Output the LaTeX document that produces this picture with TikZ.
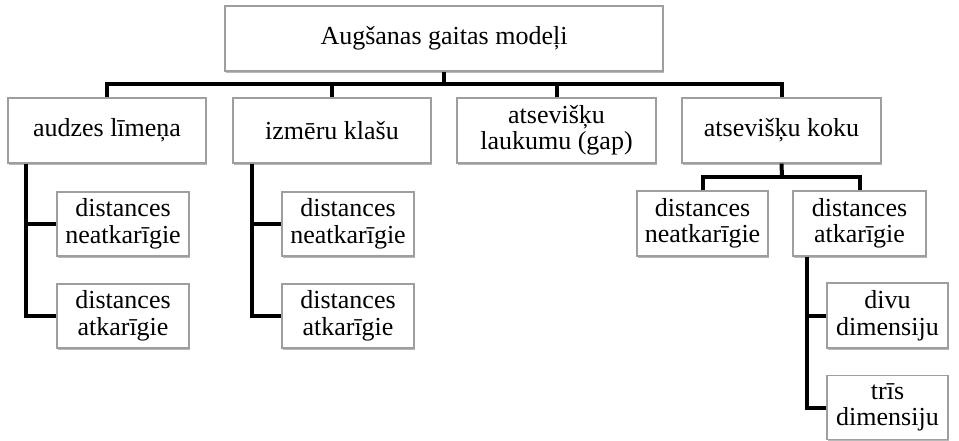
\documentclass[tikz,border=0pt]{standalone}
\usepackage{fontspec}
\setmainfont{Liberation Serif}
\usetikzlibrary{shadows}
\begin{document}
\begin{tikzpicture}[x=1pt,y=-1pt,
  box/.style={draw=black!38, line width=1.2pt, fill=white, align=center,
    inner sep=0pt, font=\fontsize{26}{26.5}\selectfont,
    drop shadow={shadow xshift=1.2pt, shadow yshift=-2.2pt, opacity=0.28, fill=black}},
  conn/.style={line width=4pt, line join=miter, draw=black}]
\useasboundingbox (0,0) rectangle (959,440);
% top
\node[box, minimum width=438pt, minimum height=65pt] (top) at (444,38.5) {Augšanas gaitas modeļi};
% level 2
\node[box, minimum width=198pt, minimum height=65pt] (L1) at (107,130.5) {audzes līmeņa};
\node[box, minimum width=198pt, minimum height=65pt] (L2) at (332,130.5) {izmēru klašu};
\node[box, minimum width=199pt, minimum height=65pt] (L3) at (556.5,130.5) {atsevišķu\\laukumu (gap)};
\node[box, minimum width=199pt, minimum height=65pt] (L4) at (781.5,130.5) {atsevišķu koku};
% level 3
\node[box, minimum width=132pt, minimum height=64pt] (C11) at (123,224) {distances\\neatkarīgie};
\node[box, minimum width=132pt, minimum height=64pt] (C12) at (123,316) {distances\\atkarīgie};
\node[box, minimum width=132pt, minimum height=64pt] (C21) at (348,224) {distances\\neatkarīgie};
\node[box, minimum width=132pt, minimum height=64pt] (C22) at (348,316) {distances\\atkarīgie};
\node[box, minimum width=131pt, minimum height=65pt] (C41) at (702.5,223.5) {distances\\neatkarīgie};
\node[box, minimum width=133pt, minimum height=65pt] (C42) at (859.5,223.5) {distances\\atkarīgie};
% level 4
\node[box, minimum width=121pt, minimum height=65pt] (C421) at (887.5,315.5) {divu\\dimensiju};
\node[box, minimum width=121pt, minimum height=64pt] (C422) at (887.5,407.5) {trīs\\dimensiju};
% connectors
\coordinate (bar) at (444,84);
\coordinate (j4) at (782,177);
\draw[conn] (top.south) -- (bar);
\draw[conn] (L1.north) -- (L1.north |- bar) -- (L4.north |- bar) -- (L4.north);
\draw[conn] (L2.north) -- (L2.north |- bar);
\draw[conn] (L3.north) -- (L3.north |- bar);
\draw[conn] ([xshift=19pt]L1.south west) |- (C12.west);
\draw[conn] ([xshift=19pt]L1.south west |- C11.west) -- (C11.west);
\draw[conn] ([xshift=20pt]L2.south west) |- (C22.west);
\draw[conn] ([xshift=20pt]L2.south west |- C21.west) -- (C21.west);
\draw[conn] (L4.south) -- (j4);
\draw[conn] (C41.north) -- (C41.north |- j4) -- (C42.north |- j4) -- (C42.north);
\draw[conn] ([xshift=15pt]C42.south west) |- (C422.west);
\draw[conn] ([xshift=15pt]C42.south west |- C421.west) -- (C421.west);
\end{tikzpicture}
\end{document}
